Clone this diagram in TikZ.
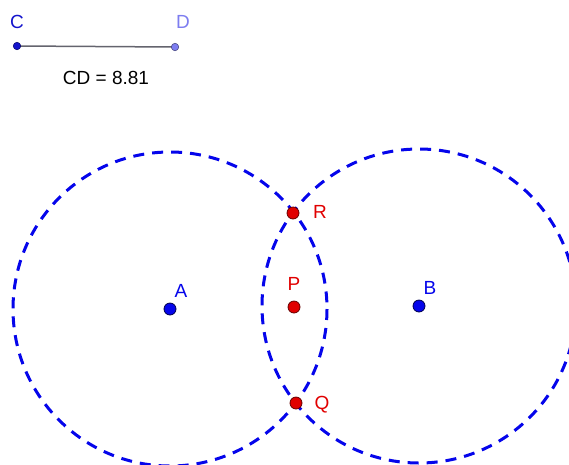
\documentclass[tikz,border=0pt]{standalone}
\usepackage{fontspec}
\setmainfont{Liberation Sans}
\definecolor{cblue}{RGB}{5,5,235}
\definecolor{dblue}{RGB}{20,20,205}
\definecolor{lpurple}{RGB}{125,125,240}
\definecolor{cred}{RGB}{225,0,0}
\definecolor{segray}{RGB}{100,100,110}
\tikzset{
  circ/.style={draw=cblue, line width=3pt, dash pattern=on 11pt off 8pt},
  bluept/.style={circle, fill=cblue, draw=black!70!blue, line width=0.8pt, minimum size=12pt, inner sep=0pt},
  redpt/.style={circle, fill=cred, draw=black!60!red, line width=0.8pt, minimum size=12pt, inner sep=0pt},
  lbl/.style={font=\fontsize{19}{19}\selectfont, inner sep=0pt},
}
\begin{document}
\begin{tikzpicture}[x=1pt,y=-1pt]
\useasboundingbox (0,0) rectangle (569,464);
\fill[white] (0,0) rectangle (569,464);
% segment CD
\coordinate (C) at (17,46);
\coordinate (D) at (175,47);
\draw[segray, line width=1.5pt] (C) -- (D);
\node[circle, fill=dblue, draw=black!60!blue, minimum size=7.5pt, inner sep=0pt, line width=0.5pt] (Cpt) at (C) {};
\node[circle, fill=lpurple, draw=black!50!lpurple, minimum size=7.5pt, inner sep=0pt, line width=0.5pt] (Dpt) at (D) {};
\node[lbl, text=dblue] (Cl) at (17,22) {C};
\node[lbl, text=lpurple] (Dl) at (183,22) {D};
\node[lbl] (CD) at (106,78) {CD = 8.81};
% circles
\begin{scope}
\clip (0,0) rectangle (569,464);
\draw[circ] (170,309) circle (157);
\draw[circ] (419,306) circle (157);
\end{scope}
% points
\node[bluept] (A) at (170,309) {};
\node[bluept] (B) at (419,306) {};
\node[redpt] (P) at (294,307) {};
\node[redpt] (R) at (293,213) {};
\node[redpt] (Q) at (296,403) {};
\node[lbl, text=cblue] (Al) at (181,291) {A};
\node[lbl, text=cblue] (Bl) at (430,288) {B};
\node[lbl, text=cred] (Pl) at (294,284) {P};
\node[lbl, text=cred] (Rl) at (320,212) {R};
\node[lbl, text=cred] (Ql) at (322,405) {Q};
\end{tikzpicture}
\end{document}
